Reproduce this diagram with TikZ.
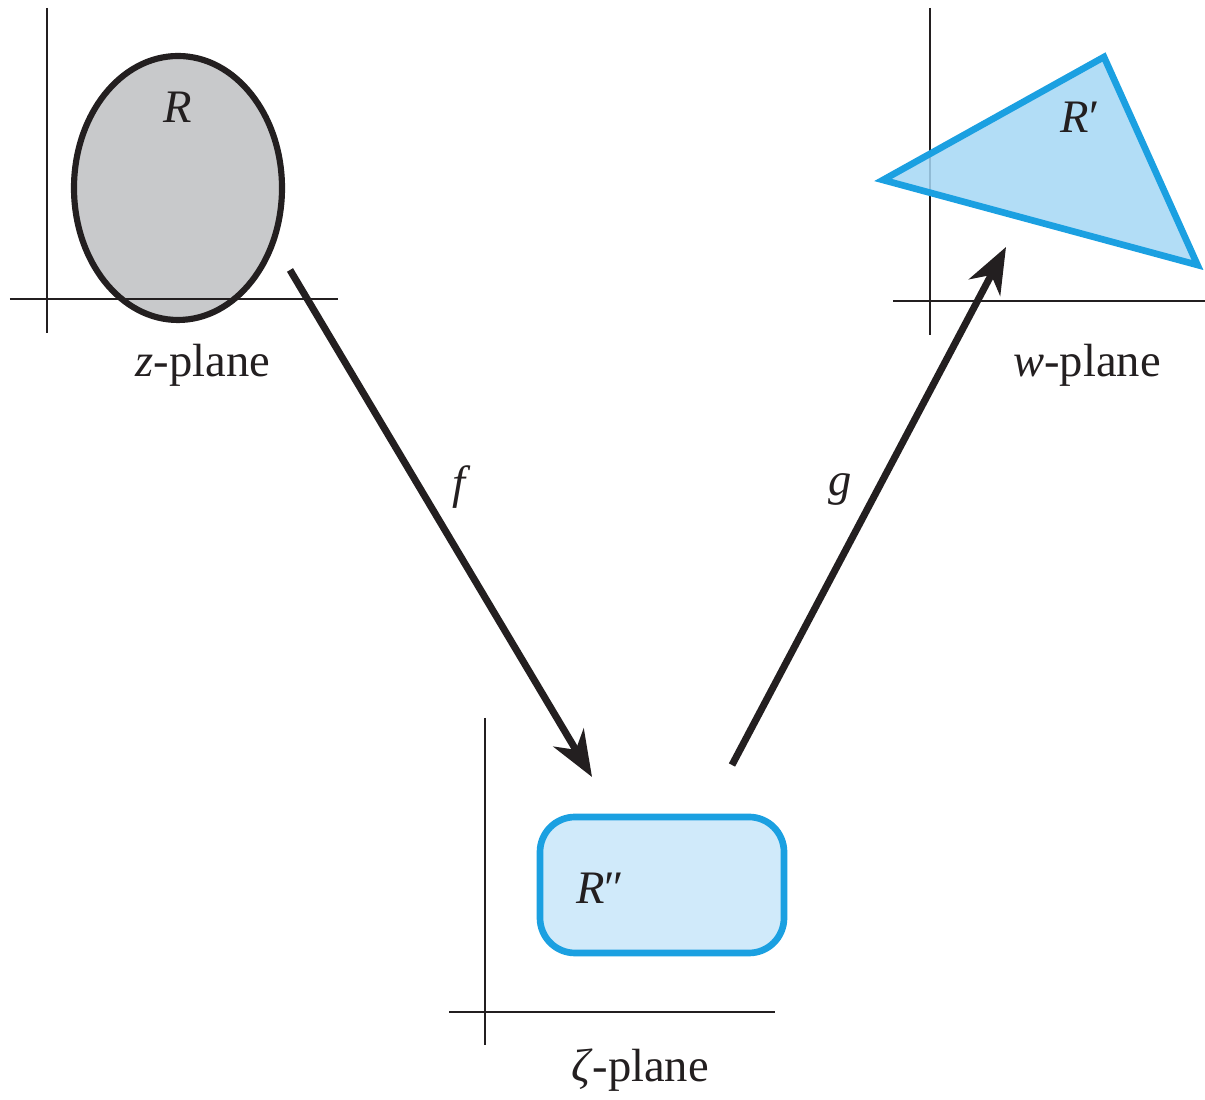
\documentclass[tikz,border=0pt]{standalone}
\usepackage{fontspec}
\setmainfont{Liberation Serif}
\usepackage{tikz}
\usetikzlibrary{positioning,arrows.meta}
\definecolor{inkcol}{RGB}{35,31,32}
\definecolor{graycol}{RGB}{200,201,203}
\definecolor{edgecol}{RGB}{27,160,225}
\definecolor{trifill}{RGB}{165,215,245}
\definecolor{boxfill}{RGB}{208,234,250}

\begin{document}
\begin{tikzpicture}[
  every node/.style={font=\fontsize{26.5}{30}\selectfont, text=inkcol},
  axis/.style={draw=inkcol, line width=1.1pt},
  region/.style={line width=3.8pt},
  map/.style={draw=inkcol, line width=4pt, -{Stealth[length=26pt, width=20pt, inset=8pt]}},
]
\useasboundingbox (0,0) rectangle (24.1,22);
% z-plane
\draw[axis] (0.94,21.84) -- (0.94,15.34);
\draw[region, draw=inkcol, fill=graycol, line width=3.5pt] (3.56,18.24) ellipse [x radius=2.08, y radius=2.64];
\draw[axis] (0.2,16.02) -- (6.76,16.02);
\node (labR) at (3.56,19.86) {\textit{R}};
\node (zplane) at (4.06,14.7) {\textit{z}-plane};
% w-plane
\draw[axis] (18.6,21.84) -- (18.6,15.3);
\draw[axis] (17.86,15.98) -- (24.1,15.98);
\draw[region, draw=edgecol, fill=trifill, fill opacity=0.85, line join=miter]
  (17.66,18.4) -- (22.08,20.86) -- (23.95,16.7) -- cycle;
\node (labRp) at (21.6,19.66) {\textit{R}′};
\node (wplane) at (21.74,14.7) {\textit{w}-plane};
% zeta-plane
\draw[axis] (9.7,7.64) -- (9.7,1.1);
\draw[axis] (8.98,1.76) -- (15.5,1.76);
\draw[region, draw=edgecol, fill=boxfill, rounded corners=0.7cm] (10.8,5.66) rectangle (15.68,2.94);
\node (labRpp) at (12.0,4.24) {\textit{R}″};
\node (zetaplane) at (12.8,0.6) {\textit{ζ}-plane};
% maps
\coordinate (fstart) at (5.8,16.6);
\coordinate (fend) at (11.84,6.46);
\coordinate (gstart) at (14.64,6.7);
\coordinate (gend) at (20.12,17.06);
\draw[map] (fstart) -- (fend);
\draw[map] (gstart) -- (gend);
\node (labf) at (9.24,12.26) {\textit{f}};
\node (labg) at (16.8,12.2) {\textit{g}};
\end{tikzpicture}
\end{document}
